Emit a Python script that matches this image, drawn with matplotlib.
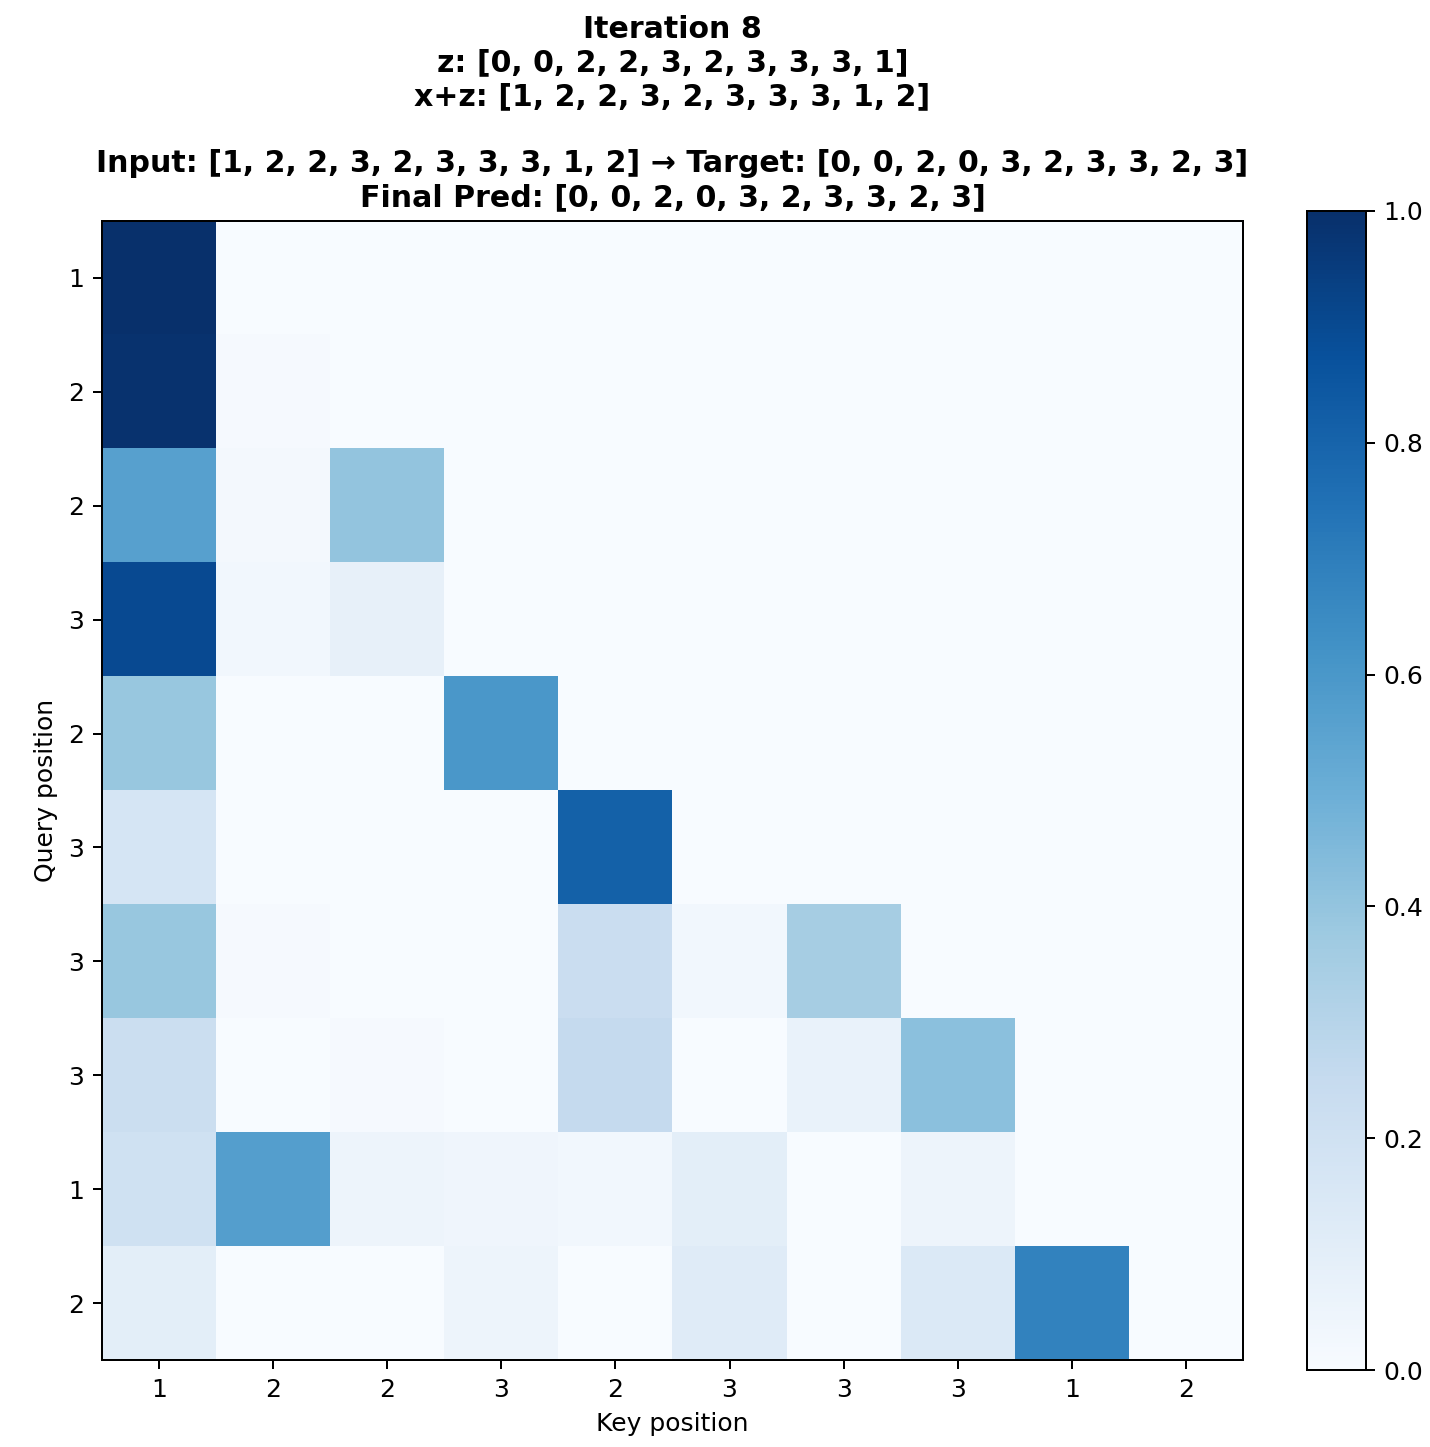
import numpy as np
import matplotlib.pyplot as plt

# token labels along both axes
tokens = [1, 2, 2, 3, 2, 3, 3, 3, 1, 2]
z_seq = [0, 0, 2, 2, 3, 2, 3, 3, 3, 1]
target = [0, 0, 2, 0, 3, 2, 3, 3, 2, 3]
pred = [0, 0, 2, 0, 3, 2, 3, 3, 2, 3]

# attention weights, rows = query, cols = key
row0 = [1.00, 0.00, 0.00, 0.00, 0.00, 0.00, 0.00, 0.00, 0.00, 0.00]
row1 = [0.99, 0.01, 0.00, 0.00, 0.00, 0.00, 0.00, 0.00, 0.00, 0.00]
row2 = [0.56, 0.02, 0.40, 0.00, 0.00, 0.00, 0.00, 0.00, 0.00, 0.00]
row3 = [0.90, 0.03, 0.08, 0.00, 0.00, 0.00, 0.00, 0.00, 0.00, 0.00]
row4 = [0.39, 0.00, 0.00, 0.60, 0.00, 0.00, 0.00, 0.00, 0.00, 0.00]
row5 = [0.17, 0.00, 0.00, 0.00, 0.81, 0.00, 0.00, 0.00, 0.00, 0.00]
row6 = [0.39, 0.01, 0.00, 0.00, 0.23, 0.03, 0.35, 0.00, 0.00, 0.00]
row7 = [0.22, 0.00, 0.01, 0.00, 0.25, 0.00, 0.07, 0.42, 0.00, 0.00]
row8 = [0.20, 0.57, 0.05, 0.04, 0.03, 0.10, 0.00, 0.05, 0.00, 0.00]
row9 = [0.10, 0.00, 0.00, 0.05, 0.00, 0.12, 0.00, 0.14, 0.68, 0.00]

attn = np.array([row0, row1, row2, row3, row4, row5, row6, row7, row8, row9])

fig = plt.figure(figsize=(1430 / 180, 1447 / 180), dpi=180)
ax = fig.add_axes([102 / 1430, 1 - 1360 / 1447, 1141 / 1430, 1139 / 1447])
cax = fig.add_axes([1307 / 1430, 1 - 1370 / 1447, 59 / 1430, 1159 / 1447])

im = ax.imshow(attn, cmap='Blues', vmin=0, vmax=1, aspect='auto')
ax.set_xticks(range(len(tokens)))
ax.set_xticklabels([str(t) for t in tokens])
ax.set_yticks(range(len(tokens)))
ax.set_yticklabels([str(t) for t in tokens])
ax.set_xlabel('Key position')
ax.set_ylabel('Query position')

title = (f'Iteration 8\nz: {z_seq}\nx+z: {tokens}\n\n'
         f'Input: {tokens} \u2192 Target: {target}\nFinal Pred: {pred}')
ax.set_title(title, fontweight='bold', fontsize=12)

fig.colorbar(im, cax=cax)

plt.savefig('out.png', dpi=180)
plt.close()
